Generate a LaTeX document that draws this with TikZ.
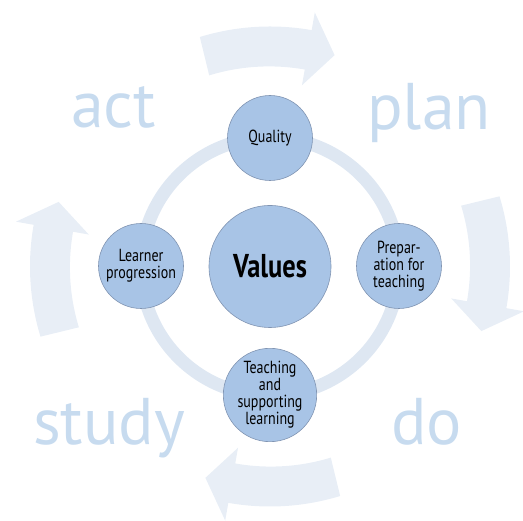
\documentclass[tikz,border=0pt]{standalone}
\usepackage{fontspec}
\setmainfont{PT Sans}
\newfontfamily\condfont[FakeStretch=0.8]{PT Sans}
\usetikzlibrary{positioning}
\definecolor{arrowfill}{RGB}{232,238,246}
\definecolor{ringcol}{RGB}{222,231,242}
\definecolor{wordcol}{RGB}{199,219,239}
\definecolor{nodefill}{RGB}{168,196,230}
\definecolor{nodeline}{RGB}{128,148,178}
\tikzset{
    x=1pt,
    y=1pt,
    stage/.style = {
        draw=nodeline,
        fill=nodefill,
        shape=circle,
        minimum size=85pt,
        inner sep=0pt,
        line width=0.6pt,
        align=center,
        text=black,
        font=\condfont\fontsize{17.5}{17}\selectfont
    },
    core/.style = {
        stage,
        minimum size=122pt,
        font=\condfont\bfseries\fontsize{33}{33}\selectfont
    },
    word/.style = {
        anchor=base west,
        inner sep=0pt,
        text=wordcol,
        font=\fontsize{66}{66}\selectfont
    },
    cyclearrow/.style = {
        fill=arrowfill
    },
    ring/.style = {
        draw=ringcol,
        line width=13pt
    },
}
\begin{document}
\begin{tikzpicture}
            \useasboundingbox (0,0) rectangle (523,521);
            \coordinate (c) at (270,254.5);

            % the four turning arrows
            \foreach \a in {0,-90,-180,-270}
                \fill[cyclearrow, shift={(c)}, rotate=\a]
                    (107:240pt) arc[start angle=107, end angle=80, radius=240pt]
                    -- (80:258pt) -- (73:221pt) -- (80:184pt) -- (80:200pt)
                    arc[start angle=80, end angle=107, radius=205pt] -- cycle;

            \node[word] (act) at (71,393) {act};
            \node[word] (plan) at (367,391) {plan};
            \node[word] (study) at (33,76) {study};
            \node[word] (do) at (391,76) {do};

            \path[ring] (c) circle[radius=129pt];

            \node[core] (values) at (c) {Values};
            \node[stage] (quality) at (270,383) {Quality};
            \node[stage] (prep) at (399,255) {Prepar-\\ation for\\teaching};
            \node[stage] (teach) at (270,126) {Teaching\\and\\supporting\\learning};
            \node[stage] (learner) at (141,255) {Learner\\progression};
\end{tikzpicture}
\end{document}
